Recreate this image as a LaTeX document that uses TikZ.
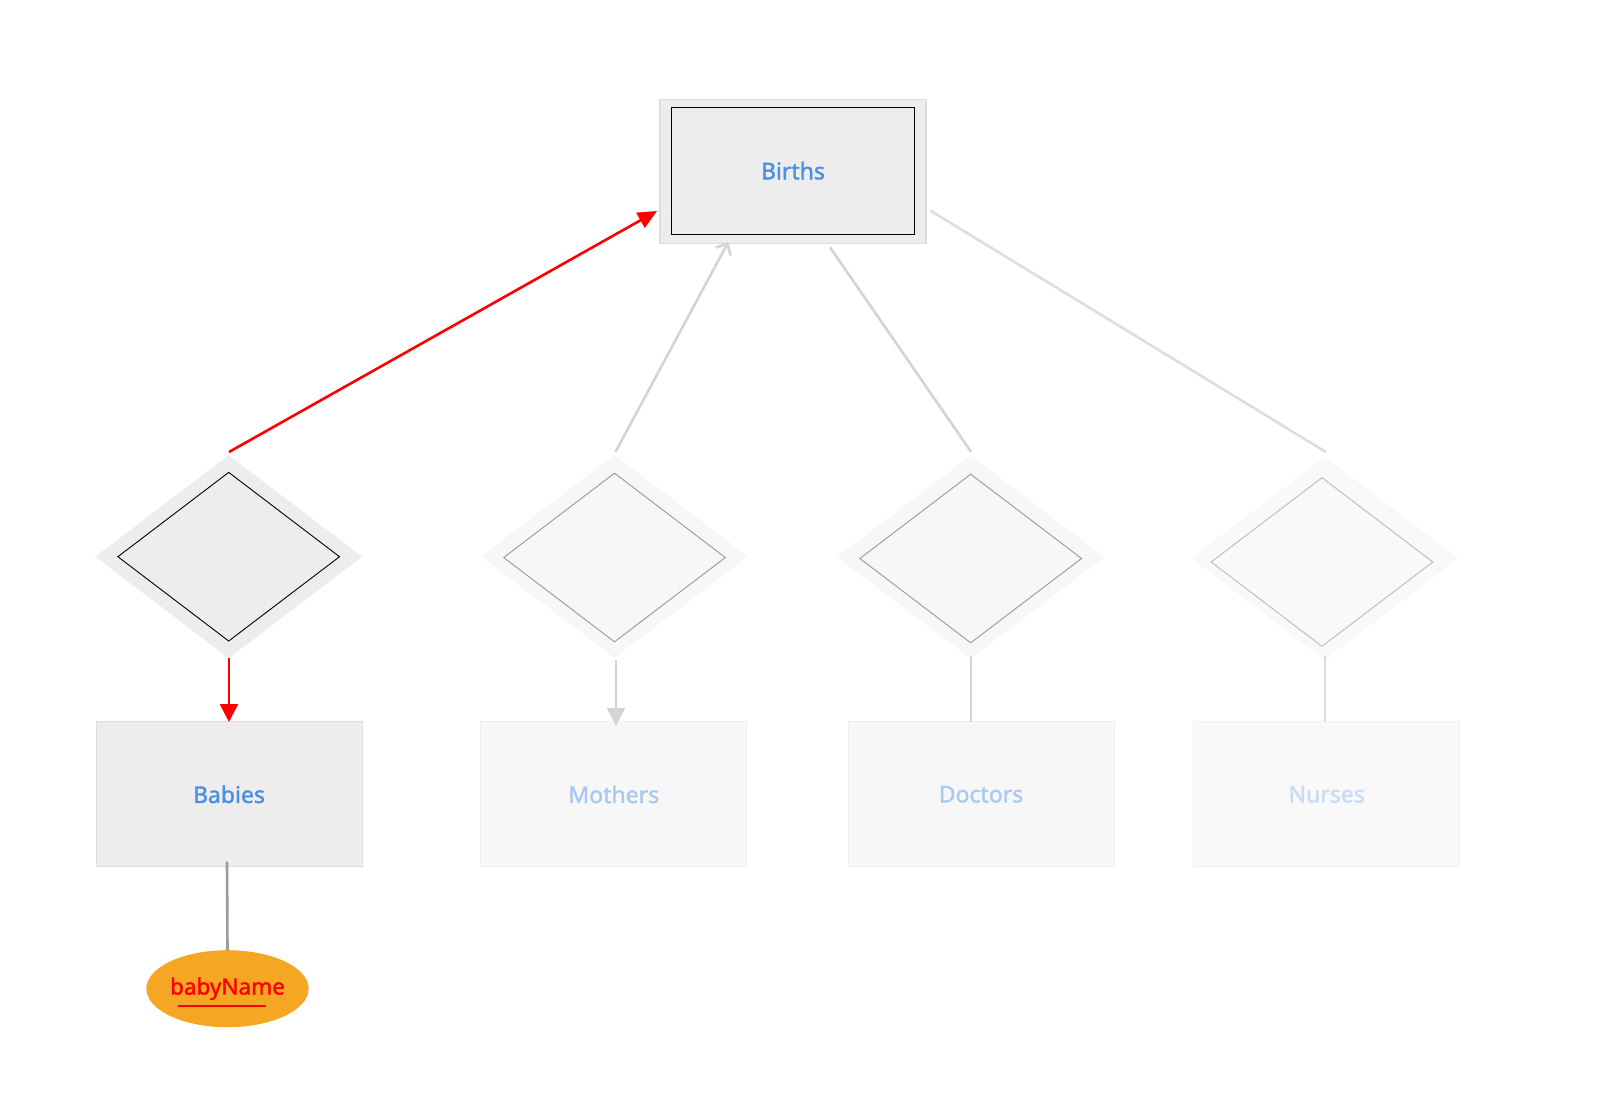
\documentclass[tikz,border=0pt]{standalone}
\usepackage{fontspec}
\setmainfont{Noto Sans}[FakeBold=1.6]
\usetikzlibrary{shapes.geometric,arrows.meta,calc}
\definecolor{hiblue}{HTML}{4A90E2}
\definecolor{midblue}{HTML}{A9CAF0}
\definecolor{loblue}{HTML}{C8DCF6}
\definecolor{fillA}{HTML}{EDEDED}
\definecolor{fillB}{HTML}{F7F7F7}
\definecolor{fillC}{HTML}{F9F9F9}
\definecolor{edgeA}{HTML}{DDDDDD}
\definecolor{edgeB}{HTML}{EEEEEE}
\definecolor{edgeC}{HTML}{F2F2F2}
\definecolor{linegray}{HTML}{D4D4D4}
\definecolor{linelight}{HTML}{DEDEDE}
\definecolor{attrgray}{HTML}{9B9B9B}
\definecolor{orangeattr}{HTML}{F5A623}
\begin{document}
\begin{tikzpicture}[x=1pt,y=-1pt,
  lbl/.style={font=\fontsize{23}{27}\selectfont\bfseries},
  entbox/.style={rectangle,inner sep=0,minimum width=266,minimum height=145,lbl},
  relout/.style={diamond,inner sep=0,minimum width=267,minimum height=203,draw=none},
  relin/.style={diamond,inner sep=0,minimum width=222,minimum height=169},
  redline/.style={draw=red,line width=2.6},
  grayline/.style={draw=linegray,line width=2.6},
]
\path[use as bounding box,fill=white] (0,0) rectangle (1603,1114);

% Births
\node[entbox,fill=fillA,draw=edgeA,line width=1.5,minimum height=144] (births) at (793,171.3) {};
\node[rectangle,inner sep=0,minimum width=243,minimum height=127,draw=black,line width=1.3,text=hiblue,lbl] (birthsin) at (793,170.7) {Births};

% relationship diamonds
\node[relout,fill=fillA] (d1) at (228.7,556.7) {};
\node[relin,draw=black,line width=0.9] (d1in) at (228.7,556.7) {};
\node[relout,fill=fillB] (d2) at (614.5,556.5) {};
\node[relin,draw=black!40,line width=0.9] (d2in) at (614.5,557.5) {};
\node[relout,fill=fillB] (d3) at (970.7,557) {};
\node[relin,draw=black!40,line width=0.9] (d3in) at (970.7,558.5) {};
\node[relout,fill=fillC] (d4) at (1324.7,558.3) {};
\node[relin,draw=black!27,line width=0.9] (d4in) at (1322,562) {};

% entity boxes
\node[entbox,fill=fillA,draw=edgeA,line width=1,text=hiblue] (babies) at (229,794.3) {Babies};
\node[entbox,fill=fillB,draw=edgeB,line width=1,text=midblue] (mothers) at (613.8,794.3) {Mothers};
\node[entbox,fill=fillB,draw=edgeB,line width=1,text=midblue] (doctors) at (981,794.3) {Doctors};
\node[entbox,fill=fillC,draw=edgeC,line width=1,text=loblue] (nurses) at (1326.7,794.3) {Nurses};

% attribute
\node[ellipse,inner sep=0,minimum width=156,minimum height=77,fill=orangeattr,text=red,
      font=\fontsize{22.5}{26}\selectfont\bfseries] (babyname) at (227.5,988.7) {\raisebox{2pt}{babyName}};
\draw[red,line width=2.6] ($(babyname.center)+(-49.5,17.3)$) -- ($(babyname.center)+(38.5,17.3)$);

% connector end points
\coordinate (d1top) at (229,452);
\coordinate (bIn1) at (657,211);
\coordinate (d2top) at (615.4,452);
\coordinate (bIn2) at (728.3,242);
\coordinate (bOut3) at (830.1,247.4);
\coordinate (d3top) at (971.2,452);
\coordinate (bOut4) at (930.3,210.6);
\coordinate (d4top) at (1325.9,452);
\coordinate (d1bot) at (229,658);
\coordinate (d2bot) at (616,660);
\coordinate (d3bot) at (971,656);
\coordinate (d4bot) at (1325,656);
\coordinate (babTop) at (229,722);
\coordinate (motTop) at (616,726);
\coordinate (docTop) at (971,722);
\coordinate (nurTop) at (1325,722);
\coordinate (babBot) at (227,861.7);

% connectors
\draw[redline,-{Triangle[length=19,width=17]}] (d1top) -- (bIn1);
\draw[redline,-{Triangle[length=18,width=18]}] (d1bot) -- (babTop);
\draw[grayline,-{Straight Barb[length=9,width=17,line width=2.6]}] (d2top) -- (bIn2);
\draw[grayline,-{Triangle[length=18,width=18]}] (d2bot) -- (motTop);
\draw[grayline] (bOut3) -- (d3top);
\draw[grayline] (d3bot) -- (docTop);
\draw[draw=linelight,line width=2.6] (bOut4) -- (d4top);
\draw[draw=linelight,line width=2.6] (d4bot) -- (nurTop);
\draw[draw=attrgray,line width=2.6] (babBot) -- (babyname.north);
\end{tikzpicture}
\end{document}
